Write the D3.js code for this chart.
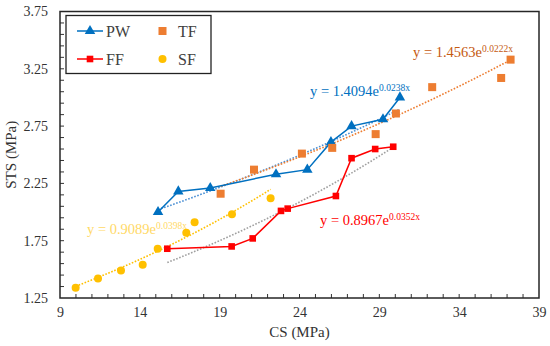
<!DOCTYPE html>
<html><head><meta charset="utf-8">
<script src="https://cdn.jsdelivr.net/npm/d3@7"></script>
<style>body{margin:0;background:#fff}svg{display:block}text{font-family:"Liberation Serif","Times New Roman",serif}</style>
</head><body><svg id="c" width="550" height="346"></svg>
<script>
const seriesNames = ["PW","TF","FF","SF"];
const pwX = [15.14,16.41,18.41,22.53,24.49,25.97,27.26,29.23,30.29];
const pwY = [2.00,2.18,2.21,2.33,2.37,2.61,2.75,2.81,3.00];
const tfX = [19.06,21.15,24.15,26.05,28.77,30.04,32.31,36.63,37.22];
const tfY = [2.16,2.37,2.51,2.56,2.68,2.86,3.09,3.17,3.33];
const ffX = [15.72,19.75,21.07,22.84,23.26,26.28,27.26,28.74,29.87];
const ffY = [1.68,1.70,1.77,2.01,2.03,2.14,2.47,2.55,2.57];
const sfX = [9.98,11.38,12.82,14.18,15.12,16.91,17.43,19.77,22.19];
const sfY = [1.34,1.42,1.49,1.54,1.68,1.82,1.91,1.98,2.12];
// exponential trendline coefficients (a, b) : y = a e^(b x)
const trendA = [1.4094,1.4563,0.8967,0.9089];
const trendB = [0.0238,0.0222,0.0352,0.0398];
const trendLabelA = ["1.4094","1.4563","0.8967","0.9089"];
const trendLabelB = ["0.0238x","0.0222x","0.0352x","0.0398x"];
const xTicks = [9,14,19,24,29,34,39];
const yTicks = [1.25,1.75,2.25,2.75,3.25,3.75];

const svg = d3.select("#c");
const L=60,R=539,T=11.5,B=298;
const x = d3.scaleLinear().domain([9,39]).range([L,R]);
const y = d3.scaleLinear().domain([1.25,3.75]).range([B,T]);

const g = svg.append("g");
const xMinor = d3.range(10,39,1);
const yMinor = d3.range(1.35,3.70,0.1);
g.selectAll(".xt").data(xMinor).enter().append("line")
 .attr("x1",d=>x(d)).attr("x2",d=>x(d)).attr("y1",B).attr("y2",B-4).attr("stroke","#333").attr("stroke-width",1);
g.selectAll(".yt").data(yMinor).enter().append("line")
 .attr("y1",d=>y(d)).attr("y2",d=>y(d)).attr("x1",L).attr("x2",L+4).attr("stroke","#333").attr("stroke-width",1);

const xa = svg.append("g").attr("transform",`translate(0,${B})`)
 .call(d3.axisBottom(x).tickValues(xTicks).tickSize(0).tickPadding(9).tickFormat(d3.format("d")));
xa.select(".domain").remove();
xa.selectAll("text").attr("font-size",14).attr("fill","#333").attr("font-family","Liberation Serif");
const ya = svg.append("g").attr("transform",`translate(${L},0)`)
 .call(d3.axisLeft(y).tickValues(yTicks).tickSize(0).tickPadding(12).tickFormat(d3.format(".2f")));
ya.select(".domain").remove();
ya.selectAll("text").attr("font-size",14).attr("fill","#333").attr("font-family","Liberation Serif");

svg.append("rect").attr("x",L).attr("y",T).attr("width",R-L).attr("height",B-T)
 .attr("fill","none").attr("stroke","#262626").attr("stroke-width",1.5);

svg.append("text").attr("x",(L+R)/2).attr("y",337).attr("text-anchor","middle").attr("font-size",15).attr("fill","#333").text("CS (MPa)");
svg.append("text").attr("transform",`translate(16,${(T+B)/2}) rotate(-90)`).attr("text-anchor","middle").attr("font-size",15).attr("fill","#333").text("STS (MPa)");

const pw = pwX.map((v,i)=>[v,pwY[i]]);
const tf = tfX.map((v,i)=>[v,tfY[i]]);
const ff = ffX.map((v,i)=>[v,ffY[i]]);
const sf = sfX.map((v,i)=>[v,sfY[i]]);
const xs = [pwX,tfX,ffX,sfX];
const trendCol = ["#4A8FD4","#ED7D31","#A0A0A0","#FFC000"];
const line = d3.line().x(d=>x(d[0])).y(d=>y(d[1]));

trendA.forEach((a,i)=>{
  const lo=d3.min(xs[i]), hi=d3.max(xs[i]);
  const pts=d3.range(0,41).map(k=>{const xx=lo+(hi-lo)*k/40;return [xx,a*Math.exp(trendB[i]*xx)];});
  svg.append("path").attr("d",line(pts)).attr("fill","none").attr("stroke",trendCol[i])
   .attr("stroke-width",1.6).attr("stroke-dasharray","1.6,1.6");
});

svg.append("path").attr("d",line(pw)).attr("fill","none").attr("stroke","#0070C0").attr("stroke-width",1.5);
svg.append("path").attr("d",line(ff)).attr("fill","none").attr("stroke","#FF0000").attr("stroke-width",1.5);

const tri = d3.symbol().type(d3.symbolTriangle).size(48);
svg.selectAll(".pw").data(pw).enter().append("path").attr("d",tri)
 .attr("transform",d=>`translate(${x(d[0])},${y(d[1])})`).attr("fill","#0070C0");
svg.selectAll(".tf").data(tf).enter().append("rect")
 .attr("x",d=>x(d[0])-4).attr("y",d=>y(d[1])-4).attr("width",8).attr("height",8).attr("fill","#ED7D31");
svg.selectAll(".ff").data(ff).enter().append("rect")
 .attr("x",d=>x(d[0])-3.3).attr("y",d=>y(d[1])-3.3).attr("width",6.6).attr("height",6.6).attr("fill","#FF0000");
svg.selectAll(".sf").data(sf).enter().append("circle")
 .attr("cx",d=>x(d[0])).attr("cy",d=>y(d[1])).attr("r",4).attr("fill","#FFC000");

const eqPos = [[310,96],[413,57],[320,225],[87,234]];
const eqCol = ["#0070C0","#C55A11","#FF0000","#FFD966"];
eqPos.forEach((p,i)=>{
  const t=svg.append("text").attr("x",p[0]).attr("y",p[1]).attr("font-size",14.5).attr("fill",eqCol[i]);
  t.append("tspan").text("y = "+trendLabelA[i]+"e");
  t.append("tspan").attr("dy",-5.5).attr("font-size",9.5).text(trendLabelB[i]);
});

const lg = svg.append("g");
lg.append("rect").attr("x",66).attr("y",15.5).attr("width",145).attr("height",58).attr("fill","#fff").attr("stroke","#222").attr("stroke-width",1.3);
lg.append("line").attr("x1",77).attr("x2",103).attr("y1",31).attr("y2",31).attr("stroke","#0070C0").attr("stroke-width",1.5);
lg.append("path").attr("d",tri).attr("transform","translate(90,31)").attr("fill","#0070C0");
lg.append("line").attr("x1",77).attr("x2",103).attr("y1",59).attr("y2",59).attr("stroke","#FF0000").attr("stroke-width",1.5);
lg.append("rect").attr("x",86.7).attr("y",55.7).attr("width",6.6).attr("height",6.6).attr("fill","#FF0000");
lg.append("rect").attr("x",158.5).attr("y",27).attr("width",8).attr("height",8).attr("fill","#ED7D31");
lg.append("circle").attr("cx",162.5).attr("cy",59).attr("r",4).attr("fill","#FFC000");
const lt = [[seriesNames[0],106,36.5],[seriesNames[1],178,36.5],[seriesNames[2],106,64.5],[seriesNames[3],178,64.5]];
lt.forEach(d=>lg.append("text").attr("x",d[1]).attr("y",d[2]).attr("font-size",16).attr("fill","#404040").text(d[0]));
</script></body></html>
